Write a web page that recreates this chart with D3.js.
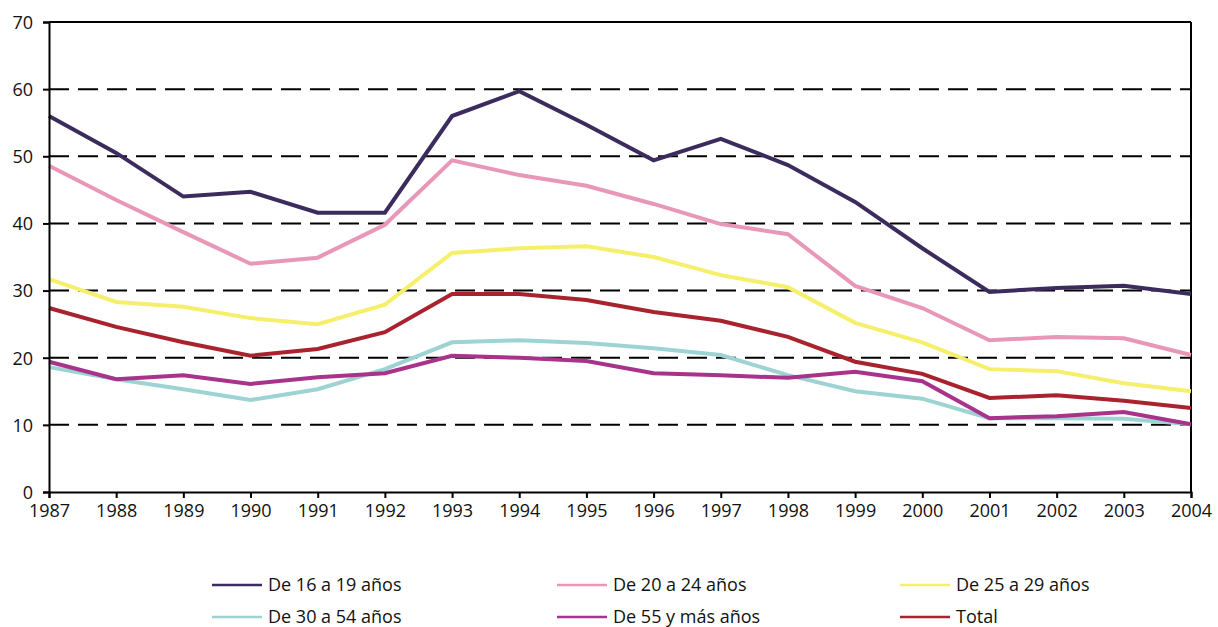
<!DOCTYPE html>
<html>
<head>
<meta charset="utf-8">
<script src="https://cdn.jsdelivr.net/npm/d3@7"></script>
<style>
  body { margin: 0; background: #fff; }
  text { font-family: "Open Sans", sans-serif; fill: #111; }
</style>
</head>
<body>
<div id="chart"></div>
<script>
var years = [1987, 1988, 1989, 1990, 1991, 1992, 1993, 1994, 1995, 1996, 1997, 1998, 1999, 2000, 2001, 2002, 2003, 2004];
var yTicks = [0, 10, 20, 30, 40, 50, 60, 70];

var s16a19 = [56.0, 50.5, 44.0, 44.7, 41.6, 41.6, 56.0, 59.7, 54.7, 49.4, 52.6, 48.7, 43.2, 36.3, 29.8, 30.4, 30.7, 29.5];
var s20a24 = [48.6, 43.5, 38.7, 34.0, 34.9, 39.8, 49.4, 47.2, 45.6, 42.9, 39.9, 38.4, 30.7, 27.4, 22.6, 23.1, 22.9, 20.4];
var s25a29 = [31.7, 28.3, 27.6, 25.9, 25.0, 27.9, 35.6, 36.3, 36.6, 35.0, 32.3, 30.5, 25.2, 22.3, 18.3, 18.0, 16.2, 15.0];
var s30a54 = [18.6, 16.8, 15.3, 13.7, 15.3, 18.3, 22.3, 22.6, 22.2, 21.4, 20.4, 17.4, 15.0, 13.9, 11.0, 11.0, 10.9, 10.1];
var s55mas = [19.4, 16.8, 17.4, 16.1, 17.1, 17.7, 20.3, 20.0, 19.5, 17.7, 17.4, 17.0, 17.9, 16.5, 11.0, 11.3, 11.9, 10.1];
var total  = [27.4, 24.6, 22.3, 20.3, 21.3, 23.8, 29.5, 29.5, 28.6, 26.8, 25.5, 23.1, 19.4, 17.6, 14.0, 14.4, 13.6, 12.5];

var seriesNames = ["De 16 a 19 años", "De 20 a 24 años", "De 25 a 29 años", "De 30 a 54 años", "De 55 y más años", "Total"];
var seriesValues = [s16a19, s20a24, s25a29, s30a54, s55mas, total];
var colors = ["#3c2c5e", "#e897b9", "#f6ef6c", "#9dd3d3", "#a8338a", "#a8232e"];
// drawing order: back to front
var drawOrder = [3, 4, 5, 2, 1, 0];

var w = 1218, h = 627,
  mLeft = 49, mRight = 1191, mTop = 22, mBottom = 492;

var x = d3.scaleLinear().domain([1987, 2004]).range([mLeft, mRight]);
var y = d3.scaleLinear().domain([0, 70]).range([mBottom, mTop]);

var svg = d3.select("#chart").append("svg")
  .attr("width", w)
  .attr("height", h);

// dashed gridlines
svg.append("g").selectAll("line")
  .data(yTicks.filter(function(d) { return d > 0 && d < 70; }))
  .enter().append("line")
  .attr("x1", mLeft).attr("x2", mRight)
  .attr("y1", function(d) { return y(d); })
  .attr("y2", function(d) { return y(d); })
  .attr("stroke", "#000")
  .attr("stroke-width", 2)
  .attr("stroke-dasharray", "20,9");

// top and right frame
svg.append("line").attr("x1", mLeft).attr("x2", mRight).attr("y1", y(70)).attr("y2", y(70))
  .attr("stroke", "#000").attr("stroke-width", 2);
svg.append("line").attr("x1", mRight).attr("x2", mRight).attr("y1", y(70)).attr("y2", y(0))
  .attr("stroke", "#000").attr("stroke-width", 2);

var line = d3.line()
  .x(function(d, i) { return x(years[i]); })
  .y(function(d) { return y(d); });

drawOrder.forEach(function(k) {
  svg.append("path")
    .attr("d", line(seriesValues[k]))
    .attr("fill", "none")
    .attr("stroke", colors[k])
    .attr("stroke-width", 4)
    .attr("stroke-linejoin", "miter");
});

var xAxis = d3.axisBottom(x).tickValues(years).tickFormat(d3.format("d")).tickSize(6).tickPadding(6);
var yAxis = d3.axisLeft(y).tickValues(yTicks).tickSize(6).tickPadding(10);

var gx = svg.append("g").attr("class", "axis").attr("transform", "translate(0," + mBottom + ")").call(xAxis);
var gy = svg.append("g").attr("class", "axis").attr("transform", "translate(" + mLeft + ",0)").call(yAxis);

svg.selectAll(".axis .domain").attr("stroke", "#000").attr("stroke-width", 2);
svg.selectAll(".axis line").attr("stroke", "#000").attr("stroke-width", 2);
svg.selectAll(".axis text").attr("fill", "#111").style("font-size", "18px").style("font-family", "'Open Sans', sans-serif");
gy.selectAll("text").attr("dy", "0.35em");

// legend
var legendX = [212, 557, 900], legendY = [585, 617];
var legend = svg.append("g");
seriesNames.forEach(function(name, i) {
  var col = i % 3, row = Math.floor(i / 3);
  var g = legend.append("g").attr("transform", "translate(" + legendX[col] + "," + legendY[row] + ")");
  g.append("line").attr("x1", 0).attr("x2", 50).attr("y1", 0).attr("y2", 0)
    .attr("stroke", colors[i]).attr("stroke-width", 2.5);
  g.append("text").attr("x", 56).attr("y", 0).attr("dy", "0.35em")
    .style("font-size", "18px").text(name);
});
</script>
</body>
</html>
